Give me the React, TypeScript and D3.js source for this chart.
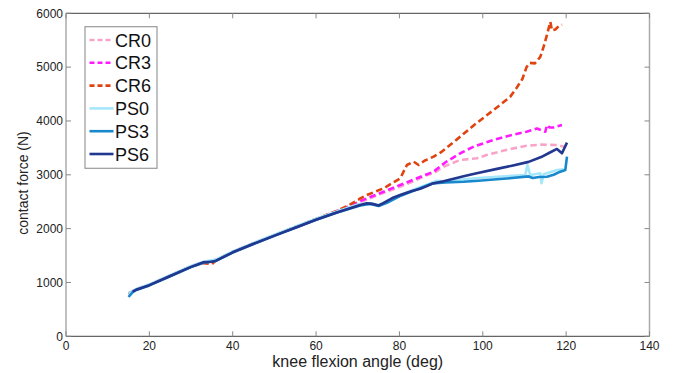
import { useEffect, useRef } from 'react';
import * as d3 from 'd3';

// knee flexion angle (deg) and contact force (N) for each implant
const cr0Angle = [15, 16, 17, 20, 25, 30, 33, 36, 40, 45, 50, 55, 60, 65, 70, 72.2, 76, 80.2, 84, 86.6, 88.2, 90.6, 94.6, 98.6, 100.9, 102.6, 106, 110.5, 114, 117.8, 119.5];
const cr0Force = [800, 840, 880, 960, 1130, 1300, 1380, 1420, 1570, 1730, 1880, 2030, 2180, 2330, 2480, 2540, 2660, 2780, 2900, 2996, 3030, 3151, 3275, 3307, 3368, 3400, 3470, 3540, 3560, 3554, 3520];

const cr3Angle = [15, 16, 17, 20, 25, 30, 33, 36, 40, 45, 50, 55, 60, 65, 68, 70.6, 72.2, 76.2, 80.2, 84.2, 88.2, 91, 94.6, 98, 102.6, 106, 110.5, 113, 115, 115.4, 116, 117, 119];
const cr3Force = [790, 835, 875, 955, 1125, 1295, 1375, 1415, 1565, 1725, 1875, 2025, 2175, 2325, 2420, 2510, 2563, 2686, 2811, 2935, 3058, 3230, 3400, 3530, 3647, 3720, 3801, 3860, 3800, 3925, 3880, 3880, 3925];

const cr6Angle = [15, 16, 17, 20, 25, 30, 33, 35, 36, 40, 45, 50, 55, 60, 65, 68, 70.6, 72.2, 76.2, 80.2, 81.8, 83.4, 84.6, 86, 88.2, 90, 94.6, 98, 102.6, 106.6, 108, 109.5, 110.5, 111.3, 112.5, 113.8, 114.6, 115.4, 116.2, 116.6, 117.4, 118.2, 119];
const cr6Force = [790, 835, 875, 955, 1125, 1300, 1360, 1340, 1415, 1565, 1725, 1875, 2030, 2180, 2330, 2440, 2560, 2625, 2749, 2935, 3182, 3244, 3182, 3260, 3337, 3420, 3709, 3930, 4204, 4452, 4600, 4780, 5000, 5080, 5070, 5190, 5380, 5600, 5840, 5680, 5700, 5760, 5790];

const ps0Angle = [15, 16, 17, 20, 25, 30, 33, 36, 40, 45, 50, 55, 60, 65, 70, 73, 75, 77, 80, 84, 87, 89, 91, 95, 99, 103.4, 107, 110.2, 110.7, 111.4, 113.8, 114.1, 114.6, 117.8, 119.4];
const ps0Force = [790, 845, 885, 965, 1135, 1305, 1385, 1425, 1575, 1735, 1885, 2035, 2185, 2320, 2450, 2470, 2440, 2500, 2620, 2740, 2830, 2890, 2880, 2910, 2940, 2965, 2980, 2996, 3182, 2996, 3028, 2842, 3010, 3089, 3100];

const ps3Angle = [15, 16, 17, 20, 25, 30, 33, 36, 40, 45, 50, 55, 60, 65, 70.6, 73, 75, 77, 80, 84, 86.6, 88, 91, 95.4, 99, 103.4, 107, 111, 112, 113.5, 115.4, 117, 118.6, 119.8, 120.2];
const ps3Force = [730, 820, 865, 945, 1115, 1285, 1365, 1400, 1555, 1715, 1865, 2015, 2165, 2300, 2430, 2460, 2420, 2480, 2600, 2720, 2800, 2840, 2860, 2872, 2890, 2917, 2940, 2970, 2940, 2960, 2965, 3000, 3058, 3089, 3337];

const ps6Angle = [16, 17, 20, 25, 30, 33, 35, 36, 40, 45, 50, 55, 60, 65, 70.6, 72.2, 73.5, 75, 76, 78.6, 80.2, 83, 85, 86.6, 88, 90.6, 95.4, 98, 103.4, 107, 111, 114, 116, 117.8, 119, 120.2];
const ps6Force = [830, 870, 950, 1120, 1290, 1375, 1385, 1405, 1560, 1720, 1870, 2015, 2165, 2300, 2440, 2470, 2460, 2430, 2470, 2580, 2625, 2700, 2740, 2790, 2840, 2880, 2975, 3020, 3110, 3170, 3240, 3330, 3410, 3480, 3400, 3597];

const seriesNames = ['CR0', 'CR3', 'CR6', 'PS0', 'PS3', 'PS6'];
const seriesColors = ['#f9a3c9', '#ff1aff', '#e0430f', '#a6e6fb', '#1a88cc', '#22378f'];
const seriesDashed = [true, true, true, false, false, false];
const seriesAngles = [cr0Angle, cr3Angle, cr6Angle, ps0Angle, ps3Angle, ps6Angle];
const seriesForces = [cr0Force, cr3Force, cr6Force, ps0Force, ps3Force, ps6Force];

const xTicks = [0, 20, 40, 60, 80, 100, 120, 140];
const yTicks = [0, 1000, 2000, 3000, 4000, 5000, 6000];

const App = () => {
    const svgRef = useRef<SVGSVGElement | null>(null);

    useEffect(() => {
        const svg = d3.select(svgRef.current);
        svg.selectAll('*').remove();

        const width = 673;
        const height = 373;
        const left = 66;
        const right = 649.5;
        const top = 13.3;
        const bottom = 336.3;
        const font = 'Liberation Sans, Arial, sans-serif';

        svg.attr('width', width).attr('height', height).attr('viewBox', [0, 0, width, height]);
        svg.append('rect').attr('width', width).attr('height', height).attr('fill', 'white');

        const x = d3.scaleLinear().domain([0, 140]).range([left, right]);
        const y = d3.scaleLinear().domain([0, 6000]).range([bottom, top]);

        // data lines
        const line = d3.line<[number, number]>()
            .x(d => x(d[0]))
            .y(d => y(d[1]));

        const lines = svg.append('g').attr('fill', 'none');
        seriesNames.forEach((name, i) => {
            const pts: [number, number][] = seriesAngles[i].map((a, j) => [a, seriesForces[i][j]]);
            lines.append('path')
                .datum(pts)
                .attr('d', line)
                .attr('stroke', seriesColors[i])
                .attr('stroke-width', 2.6)
                .attr('stroke-linejoin', 'round')
                .attr('stroke-dasharray', seriesDashed[i] ? '6.5,3.5' : null)
                .attr('class', name);
        });

        // axes box
        const axis = svg.append('g');
        axis.append('line').attr('x1', left).attr('x2', right).attr('y1', bottom).attr('y2', bottom).attr('stroke', '#666').attr('stroke-width', 1.3);
        axis.append('line').attr('x1', left).attr('x2', right).attr('y1', top).attr('y2', top).attr('stroke', '#666').attr('stroke-width', 1.3);
        axis.append('line').attr('x1', left).attr('x2', left).attr('y1', top).attr('y2', bottom).attr('stroke', '#aaa').attr('stroke-width', 1.5);
        axis.append('line').attr('x1', right).attr('x2', right).attr('y1', top).attr('y2', bottom).attr('stroke', '#aaa').attr('stroke-width', 1.5);

        const tickLen = 5;
        xTicks.forEach(t => {
            axis.append('line').attr('x1', x(t)).attr('x2', x(t)).attr('y1', bottom).attr('y2', bottom - tickLen).attr('stroke', '#888');
            axis.append('line').attr('x1', x(t)).attr('x2', x(t)).attr('y1', top).attr('y2', top + tickLen).attr('stroke', '#888');
            axis.append('text')
                .attr('x', x(t)).attr('y', 350)
                .attr('text-anchor', 'middle')
                .attr('font-family', font).attr('font-size', 12).attr('fill', '#222')
                .text(t);
        });
        yTicks.forEach(t => {
            axis.append('line').attr('x1', left).attr('x2', left + tickLen).attr('y1', y(t)).attr('y2', y(t)).attr('stroke', '#888');
            axis.append('line').attr('x1', right).attr('x2', right - tickLen).attr('y1', y(t)).attr('y2', y(t)).attr('stroke', '#888');
            axis.append('text')
                .attr('x', 63).attr('y', y(t) + 4.3)
                .attr('text-anchor', 'end')
                .attr('font-family', font).attr('font-size', 12).attr('fill', '#222')
                .text(t);
        });

        // axis titles
        svg.append('text')
            .attr('x', (left + right) / 2).attr('y', 366.5)
            .attr('text-anchor', 'middle')
            .attr('font-family', font).attr('font-size', 16).attr('fill', '#222')
            .text('knee flexion angle (deg)');
        svg.append('text')
            .attr('transform', 'translate(28,183) rotate(-90)')
            .attr('text-anchor', 'middle')
            .attr('font-family', font).attr('font-size', 14).attr('fill', '#222')
            .text('contact force (N)');

        // legend
        const legend = svg.append('g');
        legend.append('rect')
            .attr('x', 85).attr('y', 26.7).attr('width', 72).attr('height', 141.6)
            .attr('fill', 'white').attr('stroke', '#999').attr('stroke-width', 1.2);
        seriesNames.forEach((name, i) => {
            const ly = 40 + i * 22.8;
            legend.append('line')
                .attr('x1', 89.5).attr('x2', 113.5).attr('y1', ly).attr('y2', ly)
                .attr('stroke', seriesColors[i]).attr('stroke-width', 2.6)
                .attr('stroke-dasharray', seriesDashed[i] ? '5,3' : null);
            legend.append('text')
                .attr('x', 115).attr('y', ly + 6.5)
                .attr('font-family', font).attr('font-size', 18).attr('fill', '#111')
                .text(name);
        });
    }, []);

    return (
        <svg ref={svgRef} style={{ position: 'absolute', left: 0, top: 0, display: 'block' }}></svg>
    );
};

export default App;
